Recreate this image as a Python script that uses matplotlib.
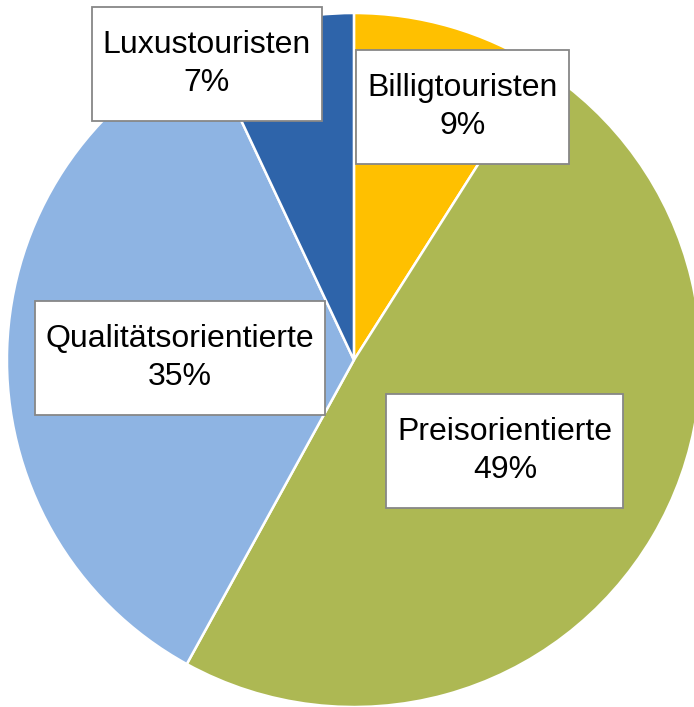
import matplotlib.pyplot as plt
from matplotlib.patches import Rectangle

plt.rcParams['font.family'] = ['Liberation Sans', 'DejaVu Sans']

# data
labels = ["Billigtouristen", "Preisorientierte", "Qualitätsorientierte", "Luxustouristen"]
shares = [9, 49, 35, 7]
colors = ["#FFC000", "#ADB853", "#8EB4E3", "#2E64AA"]

# label box centres (pie radius = 1)
label_pos = [(0.313, 0.729), (0.435, -0.262), (-0.501, 0.007), (-0.424, 0.853)]

fig = plt.figure(figsize=(6.94, 7.07), dpi=100)
ax = fig.add_axes([0, 0, 1, 1])
ax.pie(shares, colors=colors, startangle=90, counterclock=False,
       wedgeprops=dict(edgecolor="white", linewidth=1.8))
ax.set_xlim(-1.020, 0.980)
ax.set_ylim(-1.0, 1.0375)
ax.set_aspect("equal")
ax.axis("off")

texts = []
for lab, val, (x, y) in zip(labels, shares, label_pos):
    t = ax.text(x, y, f"{lab}\n{val}%", ha="center", va="center",
                fontsize=23, color="black", linespacing=1.35, zorder=5)
    texts.append(t)

# draw the white label boxes around the texts (wider pad vertically, like Excel)
fig.canvas.draw()
renderer = fig.canvas.get_renderer()
pad_x, pad_y = 11, 23
inv = ax.transData.inverted()
for t in texts:
    bb = t.get_window_extent(renderer)
    x0, y0 = inv.transform((bb.x0 - pad_x, bb.y0 - pad_y))
    x1, y1 = inv.transform((bb.x1 + pad_x, bb.y1 + pad_y))
    ax.add_patch(Rectangle((x0, y0), x1 - x0, y1 - y0, facecolor="white",
                           edgecolor="#878787", linewidth=1.3, zorder=4))

fig.savefig("out.png", dpi=100)
